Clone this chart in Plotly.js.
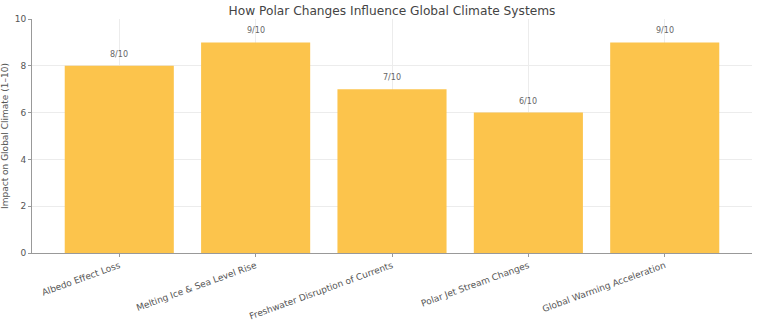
<!DOCTYPE html>
<html><head><meta charset="utf-8">
<script src="https://cdn.plot.ly/plotly-3.0.1.min.js"></script>
<style>html,body{margin:0;padding:0;background:#fff}#chart{width:758px;height:322px}</style>
</head><body><div id="chart"></div>
<script>
const categories = ["Albedo Effect Loss","Melting Ice & Sea Level Rise","Freshwater Disruption of Currents","Polar Jet Stream Changes","Global Warming Acceleration"];
const impactScores = [8, 9, 7, 6, 9];
const scoreLabels = ["8/10","9/10","7/10","6/10","9/10"];
const yTicks = [0, 2, 4, 6, 8, 10];

const font = "DejaVu Sans, sans-serif";
const trace = {
  type: "bar",
  x: categories,
  y: impactScores,
  width: 0.8,
  marker: {color: "rgb(252,196,76)"},
  hoverinfo: "none"
};
const annotations = categories.map((c, i) => ({
  x: c, y: impactScores[i], xref: "x", yref: "y",
  text: scoreLabels[i], showarrow: false, yanchor: "bottom", yshift: 5,
  font: {family: font, size: 8, color: "#666"}
}));
const layout = {
  width: 758, height: 322,
  margin: {l: 32, r: 6, t: 19, b: 69},
  paper_bgcolor: "#fff", plot_bgcolor: "#fff",
  font: {family: font, color: "#555"},
  title: {text: "How Polar Changes Influence Global Climate Systems", font: {family: font, size: 12.2, color: "#444"}, xref: "paper", x: 0.5, xanchor: "center", y: 0.968, yanchor: "middle"},
  xaxis: {
    range: [-0.64, 4.64], tickangle: -20, tickfont: {size: 9, color: "#555"},
    showgrid: true, gridcolor: "#ececec", gridwidth: 1,
    showline: true, linecolor: "#999", linewidth: 1,
    ticks: "outside", ticklen: 3, tickcolor: "#999", zeroline: false
  },
  yaxis: {
    range: [0, 10], tickvals: yTicks, tickfont: {size: 9, color: "#555"},
    showgrid: true, gridcolor: "#ececec", gridwidth: 1,
    showline: true, linecolor: "#999", linewidth: 1,
    ticks: "outside", ticklen: 3, tickcolor: "#999", zeroline: false,
    title: {text: "Impact on Global Climate (1–10)", font: {size: 9, color: "#555"}, standoff: 6}
  },
  annotations: annotations,
  showlegend: false,
  bargap: 0.2
};
Plotly.newPlot("chart", [trace], layout, {displayModeBar: false, staticPlot: true});
</script></body></html>
